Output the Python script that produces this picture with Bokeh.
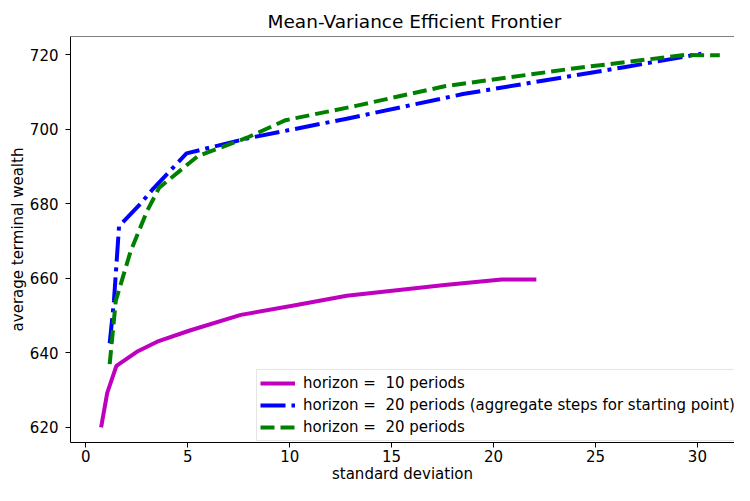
from bokeh.plotting import figure
from bokeh.models import Range1d, FixedTicker, Span, Legend, LegendItem
from bokeh.embed import file_html
from bokeh.resources import INLINE

# ---- data ----
sd_h10 = [0.75, 1.05, 1.5, 2.5, 3.5, 5.1, 7.6, 10.2, 12.8, 17.6, 20.4, 22.1]
tw_h10 = [620.0, 629.3, 636.5, 640.3, 643.0, 646.0, 650.2, 652.7, 655.3, 658.2, 659.7, 659.7]

sd_h20_agg = [1.17, 1.3, 1.38, 1.63, 1.95, 2.68, 3.3, 4.94, 7.9, 12.8, 18.5, 26.4, 30.2]
tw_h20_agg = [642.6, 649.5, 654.0, 674.0, 675.8, 680.0, 684.0, 693.5, 697.5, 702.8, 709.4, 716.6, 720.2]

sd_h20 = [1.17, 1.47, 2.2, 3.0, 3.6, 5.5, 7.9, 9.8, 13.3, 17.6, 24.1, 29.4, 31.1]
tw_h20 = [637.0, 654.0, 667.3, 678.0, 684.3, 692.8, 697.7, 702.4, 706.3, 711.5, 716.4, 719.9, 719.8]

labels = ["horizon =  10 periods",
          "horizon =  20 periods (aggregate steps for starting point)",
          "horizon =  20 periods"]

x_ticks = [0, 5, 10, 15, 20, 25, 30]
y_ticks = [620, 640, 660, 680, 700, 720]

FONT = "DejaVu Sans"

x_lo, x_hi = -0.752, 31.82
y_lo, y_top = 615.97, 724.84
p = figure(width=729, height=485, output_backend="svg", toolbar_location=None,
           x_range=Range1d(x_lo, x_hi), y_range=Range1d(y_lo, y_top),
           min_border_left=0, min_border_right=0, min_border_top=36, min_border_bottom=0,
           margin=(0, 0, 0, 5),
           background_fill_color="white", border_fill_color="white")

p.title.text = "Mean-Variance Efficient Frontier"
p.title.text_font = FONT
p.title.text_font_size = "18.5px"
p.title.text_font_style = "normal"
p.title.text_color = "black"
p.title.align = "left"
p.title.offset = 197
p.title.standoff = 10

p.outline_line_color = None
p.xgrid.visible = False
p.ygrid.visible = False

for ax in (p.xaxis[0], p.yaxis[0]):
    ax.axis_line_color = "black"
    ax.axis_line_width = 1
    ax.major_tick_line_color = "black"
    ax.major_tick_out = 5
    ax.major_tick_in = 0
    ax.minor_tick_line_color = None
    ax.major_label_text_font = FONT
    ax.major_label_text_font_size = "15px"
    ax.major_label_text_color = "black"
    ax.axis_label_text_font = FONT
    ax.axis_label_text_font_size = "15px"
    ax.axis_label_text_font_style = "normal"
    ax.axis_label_text_color = "black"

p.xaxis.ticker = FixedTicker(ticks=x_ticks)
p.yaxis.ticker = FixedTicker(ticks=y_ticks)
p.xaxis.axis_label = "standard deviation"
p.yaxis.axis_label = "average terminal wealth"
p.xaxis.major_label_standoff = 2
p.xaxis.axis_label_standoff = 0
p.xaxis.major_label_text_line_height = 1.0
p.xaxis.axis_label_text_line_height = 1.0
p.yaxis.major_label_standoff = 7
p.yaxis.axis_label_standoff = 0

p.add_layout(Span(location=y_top, dimension="width", line_color="black", line_width=1))

r1 = p.line(sd_h10, tw_h10, line_color="#bf00bf", line_width=4, line_join="round")
r2 = p.line(sd_h20_agg, tw_h20_agg, line_color="#0000ff", line_width=4,
            line_dash="25 6 4 6", line_join="round")
r3 = p.line(sd_h20, tw_h20, line_color="#008000", line_width=4,
            line_dash="14 6", line_join="round")

legend = Legend(items=[LegendItem(label=labels[0], renderers=[r1]),
                       LegendItem(label=labels[1], renderers=[r2]),
                       LegendItem(label=labels[2], renderers=[r3])],
                location=(186, 1), orientation="vertical",
                glyph_width=35, glyph_height=20, spacing=2, padding=3,
                label_standoff=8, margin=0,
                label_text_font=FONT, label_text_font_size="15px",
                label_text_color="black",
                border_line_color="#cccccc", border_line_width=1,
                background_fill_color="white", background_fill_alpha=0.8)
p.add_layout(legend)

open("out.html", "w").write(file_html(p, INLINE))
